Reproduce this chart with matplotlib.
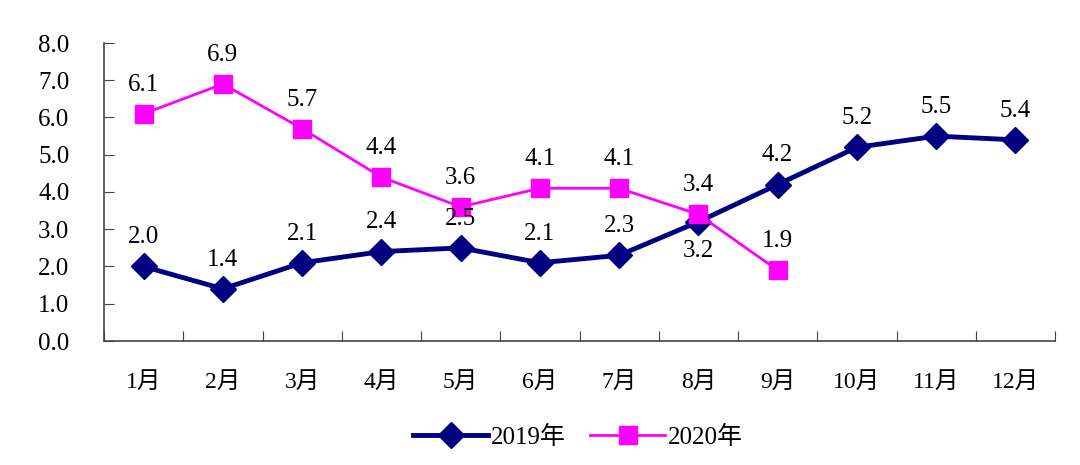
import matplotlib
matplotlib.use("Agg")
import matplotlib.pyplot as plt
import numpy as np

plt.rcParams['font.family'] = ['Liberation Serif', 'Noto Sans CJK SC']

months = ["1月", "2月", "3月", "4月", "5月", "6月", "7月", "8月", "9月", "10月", "11月", "12月"]
v2019 = [2.0, 1.4, 2.1, 2.4, 2.5, 2.1, 2.3, 3.2, 4.2, 5.2, 5.5, 5.4]
v2020 = [6.1, 6.9, 5.7, 4.4, 3.6, 4.1, 4.1, 3.4, 1.9]
below_2019 = [7]  # index of labels put under the point

fig = plt.figure(figsize=(10.8, 4.65), dpi=100)
ax = fig.add_axes([104 / 1080, 1 - 341 / 465, (1055 - 104) / 1080, (341 - 43) / 465])

x19 = np.arange(1, len(v2019) + 1)
x20 = np.arange(1, len(v2020) + 1)

ax.plot(x19, v2019, color='#000080', lw=3.5, marker='D', markersize=13,
        label='2019年', zorder=3)
ax.plot(x20, v2020, color='#FF00FF', lw=2, marker='s', markersize=12.5,
        label='2020年', zorder=4)

for i, (x, v) in enumerate(zip(x19, v2019)):
    dy = -21 if i in below_2019 else 21
    ax.annotate(f"{v:.1f}", (x, v), xytext=(0, dy), textcoords='offset points',
                ha='center', va='center', fontsize=18, zorder=5)
for x, v in zip(x20, v2020):
    ax.annotate(f"{v:.1f}", (x, v), xytext=(0, 21), textcoords='offset points',
                ha='center', va='center', fontsize=18, zorder=5)

ax.set_xlim(0.5, 12.5)
ax.set_ylim(0, 8)
ax.set_yticks(np.arange(0, 8.1, 1.0))
ax.set_yticklabels([f"{t:.1f}" for t in np.arange(0, 8.1, 1.0)], fontsize=18)
ax.set_xticks(np.arange(0.5, 12.6, 1.0))
ax.set_xticklabels([])
ax.set_xticks(x19, minor=True)
ax.set_xticklabels(months, minor=True, fontsize=17)
ax.tick_params(axis='x', which='minor', length=0, pad=22)
ax.tick_params(axis='x', which='major', direction='in', length=7, color='#444444')
ax.tick_params(axis='y', direction='in', length=7, color='#444444', pad=25)

for s in ['top', 'right']:
    ax.spines[s].set_visible(False)
for s in ['left', 'bottom']:
    ax.spines[s].set_color('#444444')
    ax.spines[s].set_linewidth(1.2)

fig.legend(loc='center', bbox_to_anchor=(578 / 1080, 1 - 437 / 465), ncol=2,
           frameon=False, fontsize=18, handlelength=3.0, handletextpad=0.1,
           columnspacing=1.0)

fig.savefig("out.png", dpi=100)
